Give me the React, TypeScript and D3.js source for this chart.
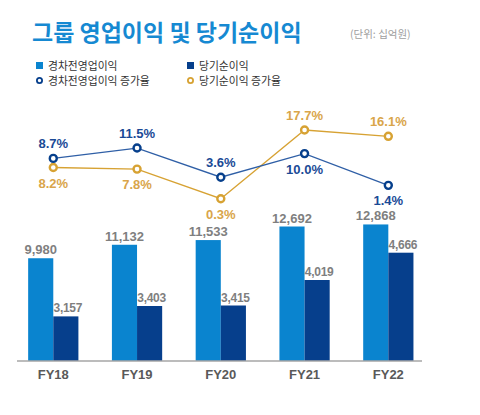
import { useEffect, useRef } from 'react';
import * as d3 from 'd3';

const years = ['FY18', 'FY19', 'FY20', 'FY21', 'FY22'];
const opIncome = [9980, 11132, 11533, 12692, 12868];
const netIncome = [3157, 3403, 3415, 4019, 4666];
const opGrowth = [8.7, 11.5, 3.6, 10.0, 1.4];
const netGrowth = [8.2, 7.8, 0.3, 17.7, 16.1];
// label side for each growth point: -1 above, 1 below
const opLabelSide = [-1, -1, -1, 1, 1];
const netLabelSide = [1, 1, 1, -1, -1];

const LIGHT = '#0a84cf';
const DARK = '#063f8c';
const BLUE_LINE = '#2f5fa6';
const BLUE_TXT = '#1a4a96';
const GOLD = '#d7a233';
const GOLD_TXT = '#d9a54a';
const KR = '"Noto Sans CJK KR", "Noto Sans", sans-serif';
const NUM = '"Liberation Sans", Arial, sans-serif';

export default function App() {
  const svgRef = useRef<SVGSVGElement>(null);

  useEffect(() => {
    if (!svgRef.current) return;
    const svg = d3.select(svgRef.current);
    svg.selectAll('*').remove();

    const baseY = 361;

    const x = d3.scaleBand().domain(years).range([11.4, 430.2]).paddingInner(0.4).paddingOuter(0.2);
    const xSub = d3.scaleBand().domain(['op', 'net']).range([0, x.bandwidth()]);
    const center = (y: string) => (x(y) ?? 0) + x.bandwidth() / 2;

    // the two bar series sit on their own scales in the source
    const yOp = d3.scaleLinear().domain([1200, 14000]).range([baseY, 211.2]);
    const yNet = d3.scaleLinear().domain([2100, 6000]).range([baseY, 196.4]);
    const yOpG = d3.scaleLinear().domain([0, 12]).range([190.5, 146.2]);
    const yNetG = d3.scaleLinear().domain([0, 18]).range([199.9, 128.8]);

    // title
    svg.append('text')
      .attr('x', 32).attr('y', 41)
      .attr('font-family', KR).attr('font-size', 23).attr('font-weight', 700)
      .attr('fill', '#1689d2')
      .text('그룹 영업이익 및 당기순이익');
    svg.append('text')
      .attr('x', 350).attr('y', 38)
      .attr('font-family', KR).attr('font-size', 10.5)
      .attr('fill', '#a0a0a0')
      .text('(단위: 십억원)');

    // legend
    const legend = [
      { label: '경차전영업이익', kind: 'rect', color: LIGHT, lx: 36, ly: 65.5 },
      { label: '당기순이익', kind: 'rect', color: DARK, lx: 187, ly: 65.5 },
      { label: '경차전영업이익 증가율', kind: 'circle', color: DARK, lx: 36, ly: 80.5 },
      { label: '당기순이익 증가율', kind: 'circle', color: GOLD, lx: 187, ly: 80.5 },
    ];
    legend.forEach((l) => {
      if (l.kind === 'rect') {
        svg.append('rect').attr('x', l.lx).attr('y', l.ly - 3.5).attr('width', 7).attr('height', 7).attr('fill', l.color);
      } else {
        svg.append('circle').attr('cx', l.lx + 3.5).attr('cy', l.ly).attr('r', 2.6)
          .attr('fill', '#fff').attr('stroke', l.color).attr('stroke-width', 1.8);
      }
      svg.append('text')
        .attr('x', l.lx + 12).attr('y', l.ly + 4)
        .attr('font-family', KR).attr('font-size', 10.8)
        .attr('fill', '#333')
        .text(l.label);
    });

    const g = svg.append('g');

    // bars
    g.selectAll('.bar-op')
      .data(years)
      .join('rect')
      .attr('class', 'bar-op')
      .attr('x', (d) => (x(d) ?? 0) + (xSub('op') ?? 0))
      .attr('y', (d, i) => yOp(opIncome[i]))
      .attr('width', xSub.bandwidth())
      .attr('height', (d, i) => baseY - yOp(opIncome[i]))
      .attr('fill', LIGHT);
    g.selectAll('.bar-net')
      .data(years)
      .join('rect')
      .attr('class', 'bar-net')
      .attr('x', (d) => (x(d) ?? 0) + (xSub('net') ?? 0))
      .attr('y', (d, i) => yNet(netIncome[i]))
      .attr('width', xSub.bandwidth())
      .attr('height', (d, i) => baseY - yNet(netIncome[i]))
      .attr('fill', DARK);

    const fmt = d3.format(',');
    years.forEach((yr, i) => {
      g.append('text')
        .attr('x', (x(yr) ?? 0) + (xSub('op') ?? 0) + xSub.bandwidth() / 2)
        .attr('y', yOp(opIncome[i]) - 4)
        .attr('text-anchor', 'middle')
        .attr('font-family', NUM).attr('font-size', 13).attr('font-weight', 700)
        .attr('fill', '#7f7f7f')
        .text(fmt(opIncome[i]));
      g.append('text')
        .attr('x', (x(yr) ?? 0) + (xSub('net') ?? 0) + xSub.bandwidth() / 2 + 2)
        .attr('y', yNet(netIncome[i]) - 4)
        .attr('text-anchor', 'middle')
        .attr('font-family', NUM).attr('font-size', 12).attr('font-weight', 700)
        .attr('letter-spacing', -0.3)
        .attr('fill', '#7f7f7f')
        .text(fmt(netIncome[i]));
    });

    // baseline + categories
    g.append('line')
      .attr('x1', 17).attr('x2', 422).attr('y1', baseY).attr('y2', baseY)
      .attr('stroke', '#a6a6a6').attr('stroke-width', 1.5);
    g.selectAll('.cat')
      .data(years)
      .join('text')
      .attr('class', 'cat')
      .attr('x', (d) => center(d))
      .attr('y', 379)
      .attr('text-anchor', 'middle')
      .attr('font-family', NUM).attr('font-size', 13).attr('font-weight', 700)
      .attr('fill', '#595959')
      .text((d) => d);

    // growth lines
    const series = [
      { vals: netGrowth, scale: yNetG, line: GOLD, stroke: GOLD, txt: GOLD_TXT, side: netLabelSide },
      { vals: opGrowth, scale: yOpG, line: BLUE_LINE, stroke: DARK, txt: BLUE_TXT, side: opLabelSide },
    ];
    series.forEach((s) => {
      const line = d3.line<number>()
        .x((d, i) => center(years[i]))
        .y((d) => s.scale(d));
      g.append('path')
        .attr('d', line(s.vals) ?? '')
        .attr('fill', 'none')
        .attr('stroke', s.line)
        .attr('stroke-width', 1.3);
    });
    series.forEach((s) => {
      s.vals.forEach((v, i) => {
        const cx = center(years[i]);
        const cy = s.scale(v);
        g.append('circle')
          .attr('cx', cx).attr('cy', cy).attr('r', 3.5)
          .attr('fill', '#fff').attr('stroke', s.stroke).attr('stroke-width', 2.4);
        g.append('text')
          .attr('x', cx)
          .attr('y', cy + (s.side[i] < 0 ? -10 : 20))
          .attr('text-anchor', 'middle')
          .attr('font-family', NUM).attr('font-size', 13).attr('font-weight', 700)
          .attr('fill', s.txt)
          .text(`${v.toFixed(1)}%`);
      });
    });
  }, []);

  return (
    <div style={{ position: 'absolute', left: 0, top: 0, width: 480, height: 415, background: '#fff' }}>
      <svg ref={svgRef} width={480} height={415} />
    </div>
  );
}
